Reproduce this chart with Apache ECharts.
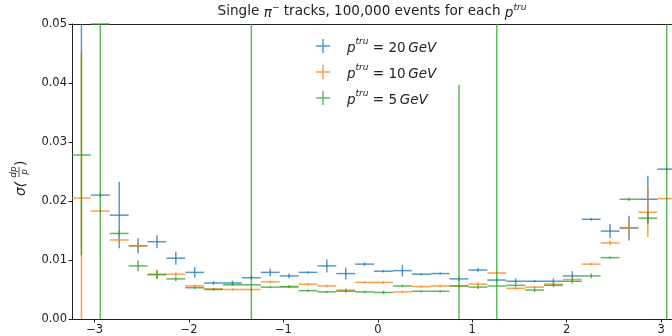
<!DOCTYPE html>
<html>
<head>
<meta charset="utf-8">
<script src="https://cdn.jsdelivr.net/npm/echarts@6/dist/echarts.min.js"></script>
<style>
  html, body { margin: 0; padding: 0; background: #fff; }
  #chart { width: 672px; height: 336px; }
</style>
</head>
<body>
<div id="chart"></div>
<script>
// bin centres (phi) and the half width of each bin
var X = [-3.14, -2.94, -2.74, -2.54, -2.34, -2.14, -1.94, -1.74, -1.54, -1.34,
         -1.14, -0.94, -0.74, -0.54, -0.34, -0.14, 0.06, 0.26, 0.46, 0.66,
         0.86, 1.06, 1.26, 1.46, 1.66, 1.86, 2.06, 2.26, 2.46, 2.66, 2.86, 3.06];
var XERR = 0.1;

// p = 20 GeV
var res20 = [0.0700, 0.0210, 0.0176, 0.0124, 0.0131, 0.0103, 0.0079, 0.0061, 0.0061, 0.0070,
             0.0079, 0.0073, 0.0079, 0.0090, 0.0077, 0.0093, 0.0081, 0.0082, 0.0076, 0.0077,
             0.0068, 0.0083, 0.0066, 0.0064, 0.0064, 0.0064, 0.0073, 0.0169, 0.0149, 0.0154,
             0.0203, 0.0254];
var err20 = [0.0253, 0.0004, 0.0056, 0.0013, 0.0011, 0.0011, 0.0009, 0.0003, 0.0004, 0.0003,
             0.0006, 0.0004, 0.0002, 0.0011, 0.0010, 0.0003, 0.0002, 0.0010, 0.0002, 0.0002,
             0.0004, 0.0003, 0.0003, 0.0005, 0.0002, 0.0005, 0.0008, 0.0002, 0.0012, 0.0021,
             0.0040, 0.0003];
// p = 10 GeV
var res10 = [0.0205, 0.0183, 0.0134, 0.0124, 0.0076, 0.0076, 0.0056, 0.0051, 0.0050, 0.0050,
             0.0063, 0.0054, 0.0059, 0.0056, 0.0049, 0.0062, 0.0062, 0.0046, 0.0055, 0.0056,
             0.0056, 0.0059, 0.0078, 0.0052, 0.0054, 0.0059, 0.0067, 0.0093, 0.0129, 0.0155,
             0.0181, 0.0204];
var err10 = [0.0250, 0.0003, 0.0004, 0.0006, 0.0008, 0.0003, 0.0002, 0.0002, 0.0002, 0.0002,
             0.0002, 0.0002, 0.0002, 0.0002, 0.0003, 0.0002, 0.0002, 0.0002, 0.0002, 0.0002,
             0.0002, 0.0003, 0.0002, 0.0002, 0.0002, 0.0002, 0.0003, 0.0002, 0.0004, 0.0012,
             0.0042, 0.0002];
// p = 5 GeV
var res5 = [0.0278, 0.0500, 0.0145, 0.0090, 0.0075, 0.0068, 0.0053, 0.0050, 0.0058, 0.0058,
            0.0054, 0.0055, 0.0048, 0.0046, 0.0047, 0.0046, 0.0045, 0.0056, 0.0047, 0.0047,
            0.0056, 0.0054, 0.0056, 0.0057, 0.0049, 0.0057, 0.0064, 0.0073, 0.0104, 0.0203,
            0.0171, 0.0600];
var err5 = [0.0170, 0.0600, 0.0004, 0.0009, 0.0007, 0.0004, 0.0002, 0.0002, 0.0002, 0.0600,
            0.0002, 0.0002, 0.0002, 0.0002, 0.0002, 0.0002, 0.0003, 0.0002, 0.0002, 0.0002,
            0.0341, 0.0003, 0.0600, 0.0002, 0.0003, 0.0003, 0.0004, 0.0004, 0.0002, 0.0003,
            0.0011, 0.0800];

var xTicks = [-3, -2, -1, 0, 1, 2, 3];
var seriesNames = ['20', '10', '5'];

var FONT = 'DejaVu Sans';
var myChart = echarts.init(document.getElementById('chart'));

function pts(vals, errs) {
    return X.map(function (x, i) { return [x, vals[i], errs[i]]; });
}

function renderErr(params, api) {
    var x = api.value(0), y = api.value(1), e = api.value(2);
    var cs = params.coordSys;
    var color = api.visual('color');
    var top = cs.y, bot = cs.y + cs.height;
    var children = [];
    var l = api.coord([x - XERR, y]), r = api.coord([x + XERR, y]);
    if (l[1] >= top - 0.5 && l[1] <= bot + 0.5) {
        children.push({
            type: 'line',
            shape: {x1: l[0], y1: l[1], x2: r[0], y2: r[1]},
            style: {stroke: color, lineWidth: 1.5}
        });
    }
    var t = api.coord([x, y + e]), b = api.coord([x, y - e]);
    var y1 = Math.max(t[1], top), y2 = Math.min(b[1], bot);
    if (y2 > y1) {
        children.push({
            type: 'line',
            shape: {x1: t[0], y1: y1, x2: t[0], y2: y2},
            style: {stroke: color, lineWidth: 1.5}
        });
    }
    return {type: 'group', children: children};
}

var plusIcon = 'path://M6.25,0h1.5v6.25h6.25v1.5h-6.25v6.25h-1.5v-6.25h-6.25v-1.5h6.25z';

option = {
    animation: false,
    backgroundColor: '#fff',
    grid: {left: 72, right: 0, top: 24, bottom: 17},
    legend: {
        orient: 'vertical',
        left: 311,
        top: 32,
        itemWidth: 14,
        itemHeight: 14,
        itemGap: 8,
        data: seriesNames.map(function (n) { return {name: n, icon: plusIcon}; }),
        formatter: function (n) {
            return '{p|p}{s|tru}{n| = ' + n + '\u2009}{i|GeV}';
        },
        textStyle: {
            fontFamily: FONT,
            color: '#222',
            rich: {
                p: {fontStyle: 'italic', fontSize: 13.5, fontFamily: FONT, color: '#222', lineHeight: 18, verticalAlign: 'bottom', padding: [0, 0, 0, 12]},
                i: {fontStyle: 'italic', fontSize: 13.5, fontFamily: FONT, color: '#222', lineHeight: 18, verticalAlign: 'bottom'},
                s: {fontStyle: 'italic', fontSize: 9, fontFamily: FONT, color: '#222', lineHeight: 18, verticalAlign: 'top'},
                n: {fontSize: 13.5, fontFamily: FONT, color: '#222', lineHeight: 18, verticalAlign: 'bottom'}
            }
        }
    },
    xAxis: [{
        type: 'value',
        min: -3.24,
        max: 3.116,
        axisLine: {show: true, onZero: false, lineStyle: {color: '#222', width: 1}},
        axisTick: {show: true, length: 3.5, customValues: xTicks, lineStyle: {color: '#222'}},
        axisLabel: {
            customValues: xTicks,
            margin: 5,
            fontFamily: FONT,
            fontSize: 11.5,
            color: '#222',
            formatter: function (v) { return String(v).replace('-', '\u2212'); }
        },
        splitLine: {show: false}
    }, {
        // top spine only
        type: 'value',
        position: 'top',
        min: -3.24,
        max: 3.116,
        axisLine: {show: true, onZero: false, lineStyle: {color: '#222', width: 1}},
        axisTick: {show: false},
        axisLabel: {show: false},
        splitLine: {show: false}
    }],
    yAxis: {
        type: 'value',
        min: 0,
        max: 0.05,
        interval: 0.01,
        axisLine: {show: true, onZero: false, lineStyle: {color: '#222', width: 1}},
        axisTick: {show: true, length: 3.5, lineStyle: {color: '#222'}},
        axisLabel: {
            margin: 5,
            fontFamily: FONT,
            fontSize: 11.5,
            color: '#222',
            formatter: function (v) { return v.toFixed(2); }
        },
        splitLine: {show: false}
    },
    graphic: [
        {
            type: 'text',
            x: 372,
            y: 3,
            style: {
                text: 'Single {i|\u03c0}{s|\u2212} tracks, 100,000 events for each {i|p}{s|tru}',
                fontFamily: FONT,
                fontSize: 13.6,
                fill: '#222',
                align: 'center',
                rich: {
                    i: {fontStyle: 'italic', fontSize: 13.6, fontFamily: FONT, lineHeight: 17, verticalAlign: 'bottom'},
                    s: {fontStyle: 'italic', fontSize: 9, fontFamily: FONT, lineHeight: 17, verticalAlign: 'top'}
                }
            }
        },
        {
            type: 'group',
            x: 21,
            y: 176,
            rotation: Math.PI / 2,
            children: [
                {type: 'text', x: -20, y: 0, style: {text: '\u03c3(', fontFamily: FONT, fontStyle: 'italic', fontSize: 14, fill: '#222', verticalAlign: 'middle', align: 'left'}},
                {type: 'text', x: 4, y: -3, style: {text: 'dp', fontFamily: FONT, fontStyle: 'italic', fontSize: 9, fill: '#222', verticalAlign: 'bottom', align: 'center'}},
                {type: 'line', shape: {x1: -1, y1: -2, x2: 9, y2: -2}, style: {stroke: '#222', lineWidth: 0.8}},
                {type: 'text', x: 4, y: -1, style: {text: 'p', fontFamily: FONT, fontStyle: 'italic', fontSize: 9, fill: '#222', verticalAlign: 'top', align: 'center'}},
                {type: 'text', x: 10, y: 0, style: {text: ')', fontFamily: FONT, fontSize: 14, fill: '#222', verticalAlign: 'middle', align: 'left'}}
            ]
        }
    ],
    series: [
        {name: '20', type: 'custom', renderItem: renderErr, color: 'rgba(31,119,180,0.75)', data: pts(res20, err20)},
        {name: '10', type: 'custom', renderItem: renderErr, color: 'rgba(255,127,14,0.75)', data: pts(res10, err10)},
        {name: '5', type: 'custom', renderItem: renderErr, color: 'rgba(44,160,44,0.75)', data: pts(res5, err5)}
    ]
};
myChart.setOption(option);
</script>
</body>
</html>
